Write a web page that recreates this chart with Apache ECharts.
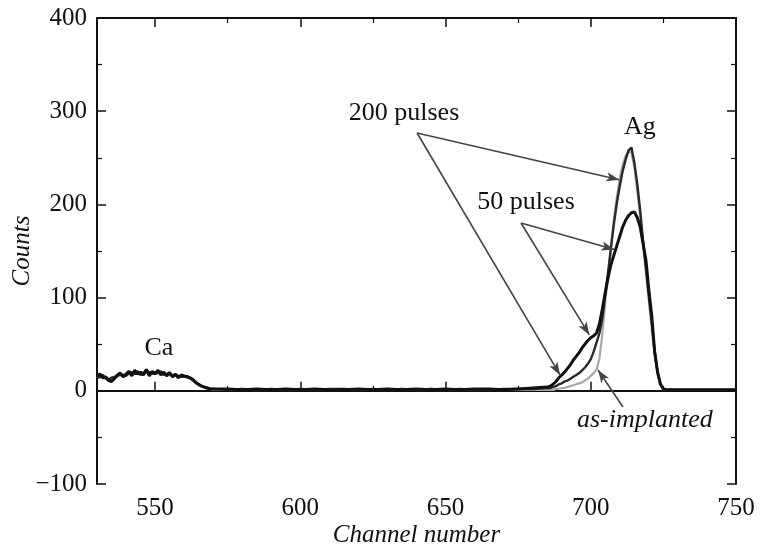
<!DOCTYPE html>
<html>
<head>
<meta charset="utf-8">
<script src="https://cdn.jsdelivr.net/npm/echarts@6/dist/echarts.min.js"></script>
<style>html,body{margin:0;padding:0;background:#fff}#c{width:760px;height:548px}</style>
</head>
<body>
<div id="c"></div>
<script>
// Channel numbers (x values)
const channels = [
  530,531,532,533,534,535,536,537,538,539,
  540,541,542,543,544,545,546,547,548,549,
  550,551,552,553,554,555,556,557,558,559,
  560,561,562,563,564,565,566,567,568,569,
  570,
  575,580,585,590,595,600,605,610,615,620,625,630,635,640,645,650,655,660,665,670,675,680,685,
  686,687,688,689,690,691,692,693,694,695,
  696,697,698,699,700,701,702,703,704,705,
  706,707,708,709,710,711,712,713,714,715,
  716,717,718,719,720,721,722,723,724,725,
  726,727,728,729,730,
  735,740,745,750
];
// Counts: as-implanted
const countsAsImplanted = [
  15,14,16,15,13,13,14,15,17,16, 17,18,18,19,18,19,20,19,19,20,
  18,19,19,18,17,18,17,16,16,15, 15,14,13,11,8,6,5,3,2,2, 1,
  1,1,2,1,1,2,1,1,2,1,1,2,1,1,2,1,1,1,2,1,1,1,1,
  1,1,2,2,3,3,4,5,6,7, 8,9,11,13,16,19,23,35,62,95,
  125,155,185,208,228,243,252,257,256,240, 215,188,157,126,96,66,38,18,7,2,
  1,1,1,1,1, 1,1,1,1
];
// Counts: 200 pulses
const counts200 = [
  14,15,17,13,12,14,15,16,18,17, 16,19,20,18,21,17,19,22,20,18,
  20,19,21,17,18,20,16,17,16,15, 15,16,14,12,9,7,5,4,3,2, 2,
  1,2,1,2,1,2,1,2,2,1,2,1,2,1,2,1,2,1,1,2,2,2,3,
  3,4,5,7,8,10,11,13,15,17, 19,22,25,29,34,42,52,62,78,104,
  128,155,180,202,220,236,248,258,261,245, 222,194,161,132,102,74,42,20,7,2,
  1,1,1,1,1, 1,1,1,1
];
// Counts: 50 pulses
const counts50 = [
  16,18,14,15,11,10,13,17,19,15, 18,21,16,22,18,20,17,23,16,21,
  18,22,17,20,16,19,15,18,14,17, 16,15,14,12,9,7,5,4,3,2, 2,
  2,1,2,1,2,1,2,1,1,2,1,2,1,2,1,2,1,2,2,1,2,3,4,
  5,7,10,14,17,20,24,28,33,37, 41,46,50,54,57,59,62,72,88,106,
  122,136,146,156,166,176,183,188,191,192, 186,176,158,140,108,80,42,20,7,2,
  1,1,1,1,1, 1,1,1,1
];
const xMajorTicks = [550, 600, 650, 700, 750];
const xMinorTicks = [575, 625, 675, 725];

const pairs = v => channels.map((c, i) => [c, v[i]]);
const FONT = 'Liberation Serif';
const txt = {fontFamily: FONT, fontSize: 25, color: '#111'};

const chart = echarts.init(document.getElementById('c'), null, {renderer: 'canvas'});
const xBase = {type: 'value', min: 530, max: 750, gridIndex: 0, splitLine: {show: false}};
chart.setOption({
  animation: false,
  backgroundColor: '#fff',
  grid: {left: 97, right: 24, top: 18, bottom: 64, containLabel: false, outerBoundsMode: 'none'},
  xAxis: [
    Object.assign({}, xBase, {
      position: 'bottom',
      axisLine: {show: true, lineStyle: {color: '#111', width: 2}},
      axisTick: {show: true, inside: true, length: 9, customValues: xMajorTicks, lineStyle: {color: '#111', width: 1.5}},
      axisLabel: Object.assign({show: true, margin: 12, customValues: xMajorTicks}, txt),
      name: 'Channel number', nameLocation: 'middle', nameGap: 39, nameMoveOverlap: false,
      nameTextStyle: Object.assign({fontStyle: 'italic'}, txt)
    }),
    Object.assign({}, xBase, {
      position: 'bottom',
      axisLine: {show: false},
      axisTick: {show: true, inside: true, length: 5, customValues: xMinorTicks, lineStyle: {color: '#111', width: 1.2}},
      axisLabel: {show: false}
    }),
    Object.assign({}, xBase, {
      position: 'top',
      axisLine: {show: true, lineStyle: {color: '#111', width: 2}},
      axisTick: {show: true, inside: true, length: 9, customValues: xMajorTicks, lineStyle: {color: '#111', width: 1.5}},
      axisLabel: {show: false}
    }),
    Object.assign({}, xBase, {
      position: 'top',
      axisLine: {show: false},
      axisTick: {show: true, inside: true, length: 5, customValues: xMinorTicks, lineStyle: {color: '#111', width: 1.2}},
      axisLabel: {show: false}
    })
  ],
  yAxis: [
    {
      type: 'value', min: -100, max: 400, interval: 100, position: 'left',
      splitLine: {show: false},
      axisLine: {show: true, lineStyle: {color: '#111', width: 2}},
      axisTick: {show: true, inside: true, length: 9, lineStyle: {color: '#111', width: 1.5}},
      minorTick: {show: true, splitNumber: 2, length: 5, lineStyle: {color: '#111', width: 1.2}},
      axisLabel: Object.assign({show: true, margin: 10, formatter: v => v < 0 ? '\u2212' + Math.abs(v) : String(v)}, txt),
      name: 'Counts', nameLocation: 'middle', nameGap: 62, nameRotate: 90, nameMoveOverlap: false,
      nameTextStyle: Object.assign({fontStyle: 'italic'}, txt)
    },
    {
      type: 'value', min: -100, max: 400, interval: 100, position: 'right',
      splitLine: {show: false},
      axisLine: {show: true, lineStyle: {color: '#111', width: 2}},
      axisTick: {show: true, inside: true, length: 9, lineStyle: {color: '#111', width: 1.5}},
      minorTick: {show: true, splitNumber: 2, length: 5, lineStyle: {color: '#111', width: 1.2}},
      axisLabel: {show: false}
    }
  ],
  series: [
    {
      name: 'as-implanted', type: 'line', data: pairs(countsAsImplanted),
      showSymbol: false, symbol: 'none', lineStyle: {color: '#a8a8a8', width: 2.2}, z: 2
    },
    {
      name: '200 pulses', type: 'line', data: pairs(counts200),
      showSymbol: false, symbol: 'none', lineStyle: {color: '#2a2a2a', width: 2.4}, z: 3
    },
    {
      name: '50 pulses', type: 'line', data: pairs(counts50),
      showSymbol: false, symbol: 'none', lineStyle: {color: '#111', width: 3}, z: 4,
      markLine: {
        silent: true, symbol: ['none', 'arrow'], symbolSize: [7, 13],
        lineStyle: {color: '#444', width: 1.6, type: 'solid'},
        label: {show: false},
        data: [
          [{coord: [640.2, 276.6]}, {coord: [709.8, 226.5]}],
          [{coord: [640.2, 276.6]}, {coord: [689.4, 17.0]}],
          [{coord: [676.0, 180.0]}, {coord: [708.1, 151.5]}],
          [{coord: [676.0, 180.0]}, {coord: [699.5, 60.0]}],
          [{coord: [711.1, -17.4]}, {coord: [702.5, 22.3]}]
        ]
      },
      markPoint: {
        silent: true, symbol: 'circle', symbolSize: 1,
        itemStyle: {color: 'rgba(0,0,0,0)'},
        label: Object.assign({show: true, position: 'inside', formatter: '{b}'}, txt, {fontSize: 26}),
        data: [
          {name: '200 pulses', coord: [635.7, 298.0]},
          {name: '50 pulses', coord: [677.7, 202.6]},
          {name: 'Ag', coord: [716.9, 282.8]},
          {name: 'Ca', coord: [551.3, 45.9]},
          {name: 'as-implanted', coord: [718.6, -31.3], label: {fontStyle: 'italic'}}
        ]
      }
    }
  ]
});
</script>
</body>
</html>
